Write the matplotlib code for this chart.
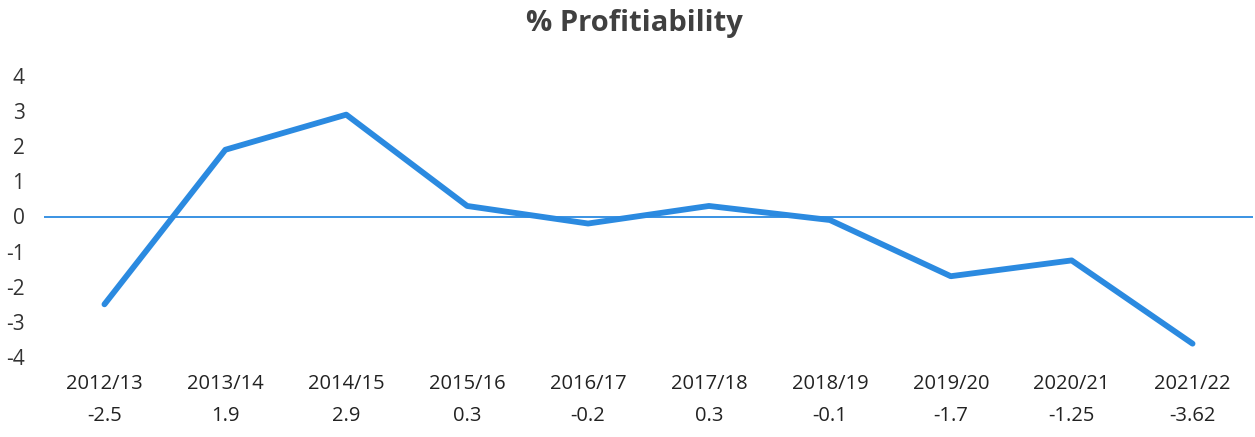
import numpy as np
import matplotlib.pyplot as plt

years = ["2012/13", "2013/14", "2014/15", "2015/16", "2016/17",
         "2017/18", "2018/19", "2019/20", "2020/21", "2021/22"]
profit = [-2.5, 1.9, 2.9, 0.3, -0.2, 0.3, -0.1, -1.7, -1.25, -3.62]
value_labels = ["-2.5", "1.9", "2.9", "0.3", "-0.2", "0.3", "-0.1", "-1.7", "-1.25", "-3.62"]

blue = "#2b8ae0"
plt.rcParams['font.family'] = ['Open Sans', 'DejaVu Sans']
plt.rcParams['axes.unicode_minus'] = False

fig = plt.figure(figsize=(12.55, 4.37), dpi=100)
ax = fig.add_axes([44 / 1255, 1 - 357 / 437, 1209 / 1255, 281 / 437])

x = np.arange(len(years))
ax.plot(x, profit, color=blue, lw=4.2, solid_joinstyle="round", solid_capstyle="round")
ax.axhline(0, color=blue, lw=1.3)

ax.set_xlim(-0.5, len(years) - 0.5)
ax.set_ylim(-4, 4)
ax.set_yticks(range(-4, 5))
ax.tick_params(axis="y", length=0, pad=14, labelsize=15, labelcolor="#333333")
ax.set_xticks(x)
ax.set_xticklabels(years)
ax.tick_params(axis="x", length=0, pad=12, labelsize=14.5, labelcolor="#222222")
for s in ax.spines.values():
    s.set_visible(False)

for i, v in enumerate(value_labels):
    ax.text(i, -0.21, v, transform=ax.get_xaxis_transform(), ha="center", va="center",
            fontsize=14.5, color="#222222")

fig.text(634 / 1255, 1 - 23 / 437, "% Profitiability", ha="center", va="center",
         fontsize=21, fontweight="bold", color="#404040")

fig.savefig("out.png", dpi=100)
